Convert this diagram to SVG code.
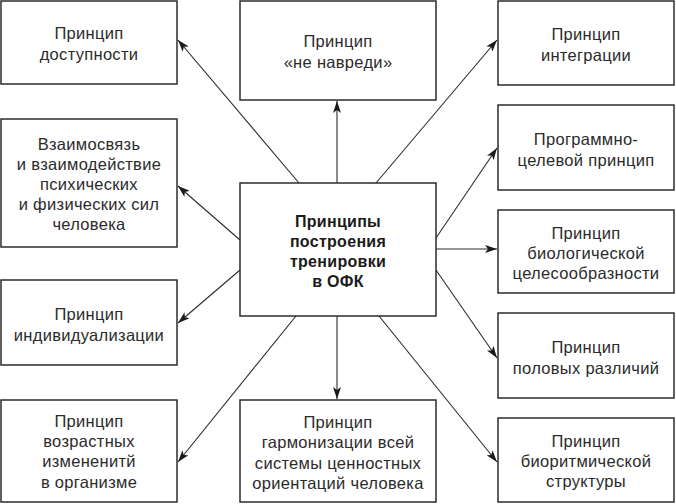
<svg xmlns="http://www.w3.org/2000/svg" width="676" height="504" viewBox="0 0 676 504">
<defs>
<style>
.box{fill:#fff;stroke:#2b2b2b;stroke-width:1.5}
.t{font-family:"Liberation Sans",Arial,sans-serif;font-size:16.5px;letter-spacing:0.3px;fill:#2b2b2b;text-anchor:middle}
.b{font-weight:bold;font-size:16px;fill:#1a1a1a}
.c line{stroke:#2b2b2b;stroke-width:1.1;marker-end:url(#ah)}
</style>
<marker id="ah" viewBox="0 0 12 8" refX="12" refY="4" markerWidth="12" markerHeight="8" markerUnits="userSpaceOnUse" orient="auto">
<path d="M0,0 L12,4 L0,8 L3,4 Z" fill="#1a1a1a"/>
</marker>
</defs>
<rect width="676" height="504" fill="#fff"/>
<g class="c" id="connectors">
<line x1="299" y1="183" x2="178" y2="40"/>
<line x1="337" y1="183" x2="337" y2="101"/>
<line x1="240" y1="240" x2="178" y2="186"/>
<line x1="376" y1="183" x2="497" y2="40"/>
<line x1="436" y1="238" x2="497" y2="148"/>
<line x1="436" y1="249" x2="497" y2="249"/>
<line x1="436" y1="270" x2="497" y2="358"/>
<line x1="379" y1="316" x2="497" y2="462"/>
<line x1="337" y1="316" x2="337" y2="399"/>
<line x1="240" y1="270" x2="178" y2="323"/>
<line x1="296" y1="316" x2="178" y2="462"/>
</g>
<g id="center">
<rect class="box" x="240" y="183" width="196" height="133"/>
<text class="t b" x="338"><tspan x="338" y="227">Принципы</tspan><tspan x="338" y="247">построения</tspan><tspan x="338" y="267">тренировки</tspan><tspan x="338" y="287">в ОФК</tspan></text>
</g>
<g id="n-dostupnost">
<rect class="box" x="1" y="1" width="176" height="83"/>
<text class="t"><tspan x="89" y="39">Принцип</tspan><tspan x="89" y="60">доступности</tspan></text>
</g>
<g id="n-vzaimosvyaz">
<rect class="box" x="1" y="119" width="176" height="128"/>
<text class="t"><tspan x="89" y="150">Взаимосвязь</tspan><tspan x="89" y="170">и взаимодействие</tspan><tspan x="89" y="190">психических</tspan><tspan x="89" y="210">и физических сил</tspan><tspan x="89" y="230">человека</tspan></text>
</g>
<g id="n-individ">
<rect class="box" x="1" y="280" width="176" height="85"/>
<text class="t"><tspan x="89" y="320">Принцип</tspan><tspan x="89" y="341">индивидуализации</tspan></text>
</g>
<g id="n-vozrast">
<rect class="box" x="1" y="400" width="176" height="102"/>
<text class="t"><tspan x="89" y="427">Принцип</tspan><tspan x="89" y="447">возрастных</tspan><tspan x="89" y="467">измененитй</tspan><tspan x="89" y="488">в организме</tspan></text>
</g>
<g id="n-ne-navredi">
<rect class="box" x="240" y="1" width="196" height="99"/>
<text class="t"><tspan x="338" y="47">Принцип</tspan><tspan x="338" y="68">«не навреди»</tspan></text>
</g>
<g id="n-garmoniz">
<rect class="box" x="240" y="400" width="196" height="102"/>
<text class="t"><tspan x="338" y="428">Принцип</tspan><tspan x="338" y="448">гармонизации всей</tspan><tspan x="338" y="469">системы ценностных</tspan><tspan x="338" y="489">ориентаций человека</tspan></text>
</g>
<g id="n-integr">
<rect class="box" x="498" y="1" width="176" height="84"/>
<text class="t"><tspan x="586" y="40">Принцип</tspan><tspan x="586" y="61">интеграции</tspan></text>
</g>
<g id="n-program">
<rect class="box" x="498" y="105" width="176" height="85"/>
<text class="t"><tspan x="586" y="145">Программно-</tspan><tspan x="586" y="166">целевой принцип</tspan></text>
</g>
<g id="n-biolog">
<rect class="box" x="498" y="210" width="176" height="83"/>
<text class="t"><tspan x="586" y="239">Принцип</tspan><tspan x="586" y="259">биологической</tspan><tspan x="586" y="279">целесообразности</tspan></text>
</g>
<g id="n-polov">
<rect class="box" x="498" y="313" width="176" height="85"/>
<text class="t"><tspan x="586" y="353">Принцип</tspan><tspan x="586" y="374">половых различий</tspan></text>
</g>
<g id="n-bioritm">
<rect class="box" x="498" y="418" width="176" height="84"/>
<text class="t"><tspan x="586" y="447">Принцип</tspan><tspan x="586" y="467">биоритмической</tspan><tspan x="586" y="487">структуры</tspan></text>
</g>
</svg>
